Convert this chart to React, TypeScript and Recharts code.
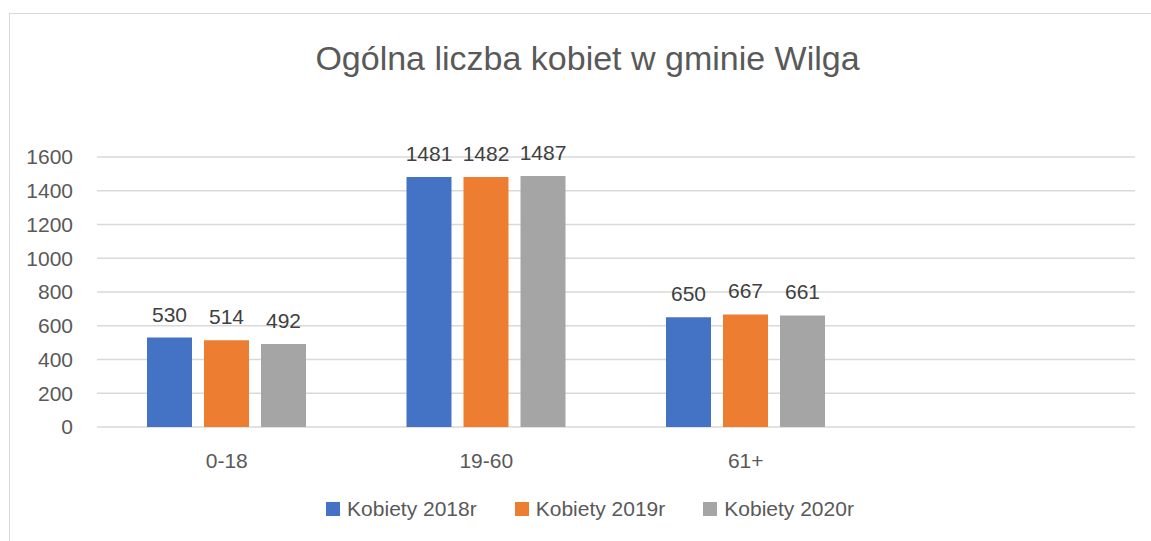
import { BarChart, Bar, XAxis, YAxis, CartesianGrid, Legend, LabelList } from 'recharts';

const categories = ['0-18', '19-60', '61+', ''];
const women2018 = [530, 1481, 650, null];
const women2019 = [514, 1482, 667, null];
const women2020 = [492, 1487, 661, null];
const yTicks = [0, 200, 400, 600, 800, 1000, 1200, 1400, 1600];

const seriesNames = ['Kobiety 2018r', 'Kobiety 2019r', 'Kobiety 2020r'];
const seriesColors = ['#4472C4', '#ED7D31', '#A5A5A5'];

const data = categories.map((cat, i) => ({
  cat,
  s2018: women2018[i],
  s2019: women2019[i],
  s2020: women2020[i],
}));

const FONT = '"Liberation Sans", Arial, sans-serif';
const TEXT = '#595959';

function renderLegend() {
  return (
    <div style={{ display: 'flex', justifyContent: 'center', alignItems: 'center', fontFamily: FONT, fontSize: 21, color: TEXT }}>
      {seriesNames.map((name, i) => (
        <div key={name} style={{ display: 'flex', alignItems: 'center', marginRight: i < 2 ? 38 : 0 }}>
          <span style={{ width: 14, height: 14, background: seriesColors[i], display: 'inline-block', marginRight: 7 }} />
          <span>{name}</span>
        </div>
      ))}
    </div>
  );
}

export default function App() {
  const keys = ['s2018', 's2019', 's2020'];
  return (
    <div style={{ position: 'absolute', left: 0, top: 0, width: 1151, height: 541, background: '#fff', overflow: 'hidden' }}>
      <div style={{ position: 'absolute', left: 9, top: 13, right: 0, bottom: 0, borderLeft: '1px solid #d9d9d9', borderTop: '1px solid #d9d9d9' }} />
      <div style={{ position: 'absolute', left: 12, top: 39, width: 1151, textAlign: 'center', fontFamily: FONT, fontSize: 34, color: TEXT }}>
        Ogólna liczba kobiet w gminie Wilga
      </div>
      <div style={{ position: 'absolute', left: 0, top: 0 }}>
        <BarChart width={1151} height={541} data={data} margin={{ top: 157, right: 16, left: 0, bottom: 14 }} barGap={12} barSize={45}>
          <CartesianGrid vertical={false} stroke="#d9d9d9" strokeWidth={1.5} />
          <XAxis
            dataKey="cat"
            height={70}
            axisLine={false}
            tickLine={false}
            tickSize={0}
            tickMargin={26}
            tick={{ fill: TEXT, fontSize: 21, fontFamily: FONT }}
          />
          <YAxis
            width={97}
            domain={[0, 1600]}
            ticks={yTicks}
            axisLine={false}
            tickLine={false}
            tickSize={0}
            tickMargin={24}
            tick={{ fill: TEXT, fontSize: 21, fontFamily: FONT }}
          />
          <Legend verticalAlign="bottom" height={30} content={renderLegend} wrapperStyle={{ left: 30, width: 1120 }} />
          {keys.map((k, i) => (
            <Bar key={k} dataKey={k} name={seriesNames[i]} fill={seriesColors[i]} isAnimationActive={false}>
              <LabelList dataKey={k} position="top" offset={16} fill="#404040" fontSize={21} fontFamily={FONT} />
            </Bar>
          ))}
        </BarChart>
      </div>
    </div>
  );
}
